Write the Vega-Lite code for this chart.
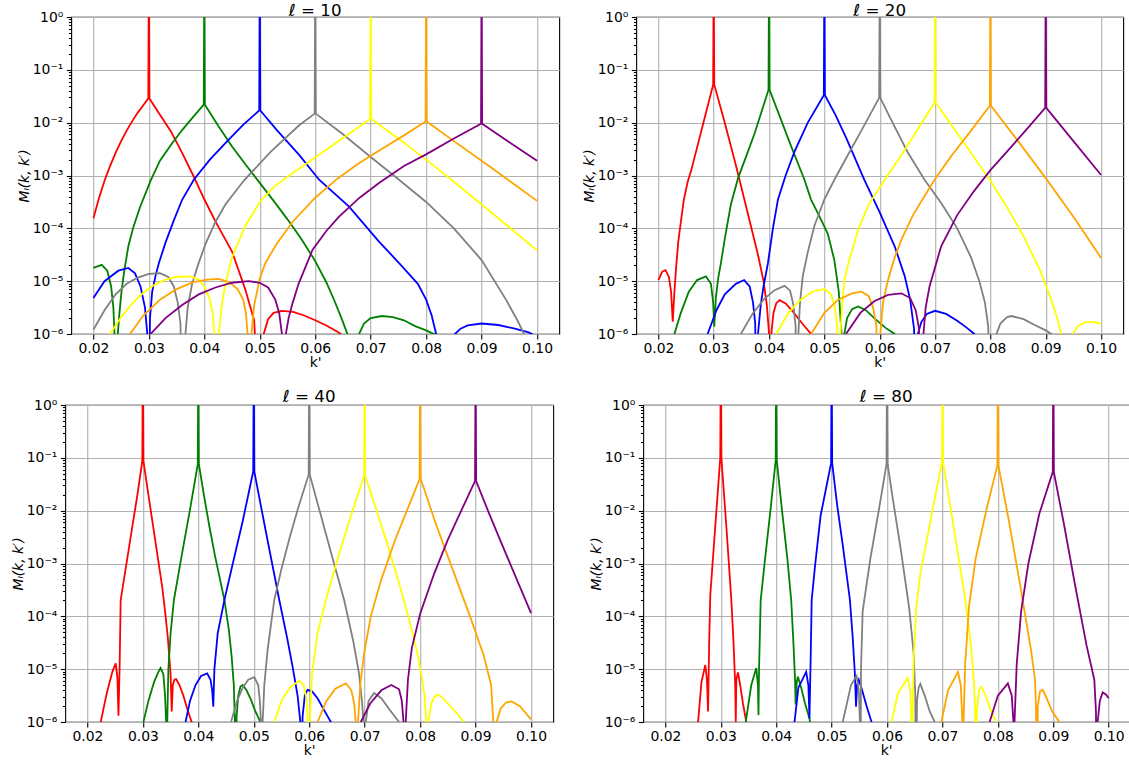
{
"$schema": "https://vega.github.io/schema/vega-lite/v6.json",
"padding": {"left": 10, "top": 2, "right": 0, "bottom": 0},
"background": "white",
"config": {
 "font": "DejaVu Sans",
 "view": {"stroke": "#000000", "strokeWidth": 1.1},
 "title": {"fontSize": 16.7, "fontWeight": "normal", "color": "#000000", "offset": -7.5, "baseline": "alphabetic"},
 "axis": {"labelFontSize": 13.9, "titleFontSize": 13.9, "titleFontWeight": "normal", "labelColor": "#000000", "titleColor": "#000000", "tickColor": "#000000", "tickWidth": 1.1, "tickSize": 4.9, "labelPadding": 3.5, "domain": false, "grid": true, "gridColor": "#b0b0b0", "gridWidth": 1.1, "labelFlush": false, "labelOverlap": false},
 "axisX": {"labelPadding": 3, "titlePadding": 0}
},
"datasets": {
"p10": [
{"s":"red","k":0.02,"m":1.55e-4},{"s":"red","k":0.021,"m":3.72e-4},{"s":"red","k":0.022,"m":7.94e-4},{"s":"red","k":0.023,"m":1.51e-3},{"s":"red","k":0.024,"m":2.69e-3},{"s":"red","k":0.025,"m":4.47e-3},{"s":"red","k":0.026,"m":7.08e-3},{"s":"red","k":0.027,"m":1.07e-2},{"s":"red","k":0.028,"m":1.55e-2},{"s":"red","k":0.029,"m":2.14e-2},{"s":"red","k":0.0299,"m":2.88e-2},{"s":"red","k":0.03,"m":10},{"s":"red","k":0.0301,"m":2.88e-2},{"s":"red","k":0.032,"m":1.41e-2},{"s":"red","k":0.034,"m":6.76e-3},{"s":"red","k":0.036,"m":2.69e-3},{"s":"red","k":0.038,"m":1.0e-3},{"s":"red","k":0.04,"m":3.55e-4},{"s":"red","k":0.042,"m":1.35e-4},{"s":"red","k":0.045,"m":3.63e-5},{"s":"red","k":0.0474,"m":6.92e-6},{"s":"red","k":0.049,"m":1.78e-6},{"s":"red","k":0.05,"m":1e-8},{"s":"red","k":0.0507,"m":1e-6},{"s":"red","k":0.0515,"m":1.91e-6},{"s":"red","k":0.0525,"m":2.51e-6},{"s":"red","k":0.054,"m":2.75e-6},{"s":"red","k":0.056,"m":2.63e-6},{"s":"red","k":0.058,"m":2.24e-6},{"s":"red","k":0.06,"m":1.82e-6},{"s":"red","k":0.062,"m":1.45e-6},{"s":"red","k":0.064,"m":1.1e-6},{"s":"red","k":0.066,"m":7.94e-7},
{"s":"green","k":0.02,"m":1.78e-5},{"s":"green","k":0.0215,"m":2.04e-5},{"s":"green","k":0.0225,"m":1.58e-5},{"s":"green","k":0.0232,"m":7.94e-6},{"s":"green","k":0.0236,"m":3.16e-6},{"s":"green","k":0.0238,"m":1e-6},{"s":"green","k":0.024,"m":1e-8},{"s":"green","k":0.0244,"m":1e-6},{"s":"green","k":0.0247,"m":2.51e-6},{"s":"green","k":0.0251,"m":6.92e-6},{"s":"green","k":0.0256,"m":1.66e-5},{"s":"green","k":0.0263,"m":4.57e-5},{"s":"green","k":0.0272,"m":1.05e-4},{"s":"green","k":0.0284,"m":2.51e-4},{"s":"green","k":0.0303,"m":7.94e-4},{"s":"green","k":0.032,"m":1.91e-3},{"s":"green","k":0.0342,"m":4.07e-3},{"s":"green","k":0.036,"m":7.24e-3},{"s":"green","k":0.038,"m":1.29e-2},{"s":"green","k":0.0399,"m":2.19e-2},{"s":"green","k":0.04,"m":10},{"s":"green","k":0.0401,"m":2.19e-2},{"s":"green","k":0.0425,"m":8.71e-3},{"s":"green","k":0.045,"m":3.55e-3},{"s":"green","k":0.0475,"m":1.58e-3},{"s":"green","k":0.05,"m":7.24e-4},{"s":"green","k":0.0525,"m":3.31e-4},{"s":"green","k":0.055,"m":1.48e-4},{"s":"green","k":0.0575,"m":6.31e-5},{"s":"green","k":0.06,"m":2.4e-5},{"s":"green","k":0.062,"m":9.55e-6},{"s":"green","k":0.0635,"m":4.17e-6},{"s":"green","k":0.0648,"m":1.91e-6},{"s":"green","k":0.0658,"m":1e-6},{"s":"green","k":0.0667,"m":1e-8},{"s":"green","k":0.0679,"m":1e-6},{"s":"green","k":0.0688,"m":1.58e-6},{"s":"green","k":0.07,"m":2e-6},{"s":"green","k":0.072,"m":2.19e-6},{"s":"green","k":0.074,"m":2.09e-6},{"s":"green","k":0.076,"m":1.82e-6},{"s":"green","k":0.078,"m":1.41e-6},{"s":"green","k":0.08,"m":1.17e-6},{"s":"green","k":0.0824,"m":8.91e-7},
{"s":"blue","k":0.02,"m":4.79e-6},{"s":"blue","k":0.022,"m":1e-5},{"s":"blue","k":0.0245,"m":1.58e-5},{"s":"blue","k":0.0263,"m":1.78e-5},{"s":"blue","k":0.0275,"m":1.41e-5},{"s":"blue","k":0.0285,"m":7.94e-6},{"s":"blue","k":0.0293,"m":3.16e-6},{"s":"blue","k":0.0298,"m":7.94e-7},{"s":"blue","k":0.03,"m":1e-8},{"s":"blue","k":0.0302,"m":2e-6},{"s":"blue","k":0.0306,"m":6.31e-6},{"s":"blue","k":0.0312,"m":1.26e-5},{"s":"blue","k":0.0318,"m":2.19e-5},{"s":"blue","k":0.033,"m":5.37e-5},{"s":"blue","k":0.0345,"m":1.41e-4},{"s":"blue","k":0.036,"m":3.47e-4},{"s":"blue","k":0.0381,"m":8.32e-4},{"s":"blue","k":0.041,"m":2e-3},{"s":"blue","k":0.0444,"m":4.79e-3},{"s":"blue","k":0.047,"m":9.12e-3},{"s":"blue","k":0.0499,"m":1.7e-2},{"s":"blue","k":0.05,"m":10},{"s":"blue","k":0.0501,"m":1.7e-2},{"s":"blue","k":0.053,"m":7.41e-3},{"s":"blue","k":0.0571,"m":2.45e-3},{"s":"blue","k":0.0607,"m":8.32e-4},{"s":"blue","k":0.0661,"m":2.57e-4},{"s":"blue","k":0.0715,"m":5.62e-5},{"s":"blue","k":0.0755,"m":2e-5},{"s":"blue","k":0.0785,"m":8.91e-6},{"s":"blue","k":0.08,"m":4.47e-6},{"s":"blue","k":0.081,"m":2.24e-6},{"s":"blue","k":0.0818,"m":1e-6},{"s":"blue","k":0.0835,"m":1e-8},{"s":"blue","k":0.0852,"m":1e-6},{"s":"blue","k":0.0862,"m":1.26e-6},{"s":"blue","k":0.0875,"m":1.45e-6},{"s":"blue","k":0.09,"m":1.58e-6},{"s":"blue","k":0.093,"m":1.48e-6},{"s":"blue","k":0.096,"m":1.26e-6},{"s":"blue","k":0.0985,"m":1.07e-6},{"s":"blue","k":0.1,"m":8.91e-7},
{"s":"gray","k":0.02,"m":1.2e-6},{"s":"gray","k":0.022,"m":2.82e-6},{"s":"gray","k":0.024,"m":5.62e-6},{"s":"gray","k":0.026,"m":8.91e-6},{"s":"gray","k":0.028,"m":1.17e-5},{"s":"gray","k":0.03,"m":1.38e-5},{"s":"gray","k":0.032,"m":1.41e-5},{"s":"gray","k":0.0335,"m":1.2e-5},{"s":"gray","k":0.0345,"m":7.94e-6},{"s":"gray","k":0.0352,"m":3.98e-6},{"s":"gray","k":0.0357,"m":1.58e-6},{"s":"gray","k":0.036,"m":1e-8},{"s":"gray","k":0.0366,"m":1e-6},{"s":"gray","k":0.037,"m":3.16e-6},{"s":"gray","k":0.0378,"m":8.91e-6},{"s":"gray","k":0.039,"m":2.24e-5},{"s":"gray","k":0.0402,"m":5.01e-5},{"s":"gray","k":0.042,"m":1.32e-4},{"s":"gray","k":0.0438,"m":2.82e-4},{"s":"gray","k":0.0471,"m":7.94e-4},{"s":"gray","k":0.052,"m":2.82e-3},{"s":"gray","k":0.0571,"m":8.91e-3},{"s":"gray","k":0.0599,"m":1.48e-2},{"s":"gray","k":0.06,"m":10},{"s":"gray","k":0.0601,"m":1.48e-2},{"s":"gray","k":0.065,"m":6.03e-3},{"s":"gray","k":0.07,"m":2.24e-3},{"s":"gray","k":0.075,"m":8.51e-4},{"s":"gray","k":0.08,"m":3.16e-4},{"s":"gray","k":0.085,"m":1e-4},{"s":"gray","k":0.09,"m":2.51e-5},{"s":"gray","k":0.0944,"m":4.47e-6},{"s":"gray","k":0.0965,"m":1.78e-6},{"s":"gray","k":0.0981,"m":7.94e-7},{"s":"gray","k":0.0988,"m":1e-8},
{"s":"yellow","k":0.023,"m":1e-6},{"s":"yellow","k":0.025,"m":2.09e-6},{"s":"yellow","k":0.027,"m":3.8e-6},{"s":"yellow","k":0.029,"m":6.03e-6},{"s":"yellow","k":0.031,"m":8.51e-6},{"s":"yellow","k":0.033,"m":1.07e-5},{"s":"yellow","k":0.035,"m":1.2e-5},{"s":"yellow","k":0.0375,"m":1.23e-5},{"s":"yellow","k":0.039,"m":1.07e-5},{"s":"yellow","k":0.04,"m":7.94e-6},{"s":"yellow","k":0.041,"m":4.47e-6},{"s":"yellow","k":0.0415,"m":2.51e-6},{"s":"yellow","k":0.0419,"m":7.94e-7},{"s":"yellow","k":0.0421,"m":1e-8},{"s":"yellow","k":0.0426,"m":1e-6},{"s":"yellow","k":0.0431,"m":3.16e-6},{"s":"yellow","k":0.0438,"m":8.91e-6},{"s":"yellow","k":0.045,"m":2.82e-5},{"s":"yellow","k":0.0474,"m":1.12e-4},{"s":"yellow","k":0.05,"m":3.16e-4},{"s":"yellow","k":0.0525,"m":6.03e-4},{"s":"yellow","k":0.0553,"m":1e-3},{"s":"yellow","k":0.06,"m":2.19e-3},{"s":"yellow","k":0.065,"m":5.13e-3},{"s":"yellow","k":0.0699,"m":1.17e-2},{"s":"yellow","k":0.07,"m":10},{"s":"yellow","k":0.0701,"m":1.17e-2},{"s":"yellow","k":0.075,"m":5.01e-3},{"s":"yellow","k":0.08,"m":2e-3},{"s":"yellow","k":0.085,"m":7.59e-4},{"s":"yellow","k":0.09,"m":2.82e-4},{"s":"yellow","k":0.095,"m":1.05e-4},{"s":"yellow","k":0.1,"m":3.8e-5},
{"s":"orange","k":0.0266,"m":1e-6},{"s":"orange","k":0.029,"m":2.24e-6},{"s":"orange","k":0.032,"m":4.47e-6},{"s":"orange","k":0.035,"m":7.08e-6},{"s":"orange","k":0.038,"m":9.55e-6},{"s":"orange","k":0.0405,"m":1.07e-5},{"s":"orange","k":0.0426,"m":1.1e-5},{"s":"orange","k":0.0445,"m":9.55e-6},{"s":"orange","k":0.046,"m":7.08e-6},{"s":"orange","k":0.047,"m":4.47e-6},{"s":"orange","k":0.0475,"m":2.51e-6},{"s":"orange","k":0.0478,"m":1e-6},{"s":"orange","k":0.048,"m":1e-8},{"s":"orange","k":0.0485,"m":1e-6},{"s":"orange","k":0.049,"m":3.55e-6},{"s":"orange","k":0.05,"m":1.12e-5},{"s":"orange","k":0.051,"m":2.19e-5},{"s":"orange","k":0.053,"m":5.01e-5},{"s":"orange","k":0.0559,"m":1.32e-4},{"s":"orange","k":0.06,"m":3.8e-4},{"s":"orange","k":0.064,"m":8.71e-4},{"s":"orange","k":0.068,"m":1.74e-3},{"s":"orange","k":0.072,"m":3.16e-3},{"s":"orange","k":0.076,"m":5.75e-3},{"s":"orange","k":0.0799,"m":1.05e-2},{"s":"orange","k":0.08,"m":10},{"s":"orange","k":0.0801,"m":1.05e-2},{"s":"orange","k":0.085,"m":4.47e-3},{"s":"orange","k":0.09,"m":1.91e-3},{"s":"orange","k":0.095,"m":7.94e-4},{"s":"orange","k":0.1,"m":3.31e-4},
{"s":"purple","k":0.0303,"m":1e-6},{"s":"purple","k":0.033,"m":2e-6},{"s":"purple","k":0.036,"m":3.55e-6},{"s":"purple","k":0.039,"m":5.62e-6},{"s":"purple","k":0.042,"m":7.59e-6},{"s":"purple","k":0.045,"m":9.33e-6},{"s":"purple","k":0.048,"m":1e-5},{"s":"purple","k":0.05,"m":9.33e-6},{"s":"purple","k":0.0515,"m":7.59e-6},{"s":"purple","k":0.0528,"m":4.47e-6},{"s":"purple","k":0.0535,"m":2.51e-6},{"s":"purple","k":0.054,"m":1e-6},{"s":"purple","k":0.0542,"m":1e-8},{"s":"purple","k":0.0547,"m":1e-6},{"s":"purple","k":0.0552,"m":2e-6},{"s":"purple","k":0.0559,"m":3.8e-6},{"s":"purple","k":0.057,"m":8.91e-6},{"s":"purple","k":0.0595,"m":3.89e-5},{"s":"purple","k":0.062,"m":8.91e-5},{"s":"purple","k":0.0643,"m":1.66e-4},{"s":"purple","k":0.068,"m":3.8e-4},{"s":"purple","k":0.0715,"m":7.24e-4},{"s":"purple","k":0.076,"m":1.51e-3},{"s":"purple","k":0.08,"m":2.51e-3},{"s":"purple","k":0.085,"m":5.01e-3},{"s":"purple","k":0.0899,"m":9.55e-3},{"s":"purple","k":0.09,"m":10},{"s":"purple","k":0.0901,"m":9.55e-3},{"s":"purple","k":0.095,"m":4.27e-3},{"s":"purple","k":0.1,"m":1.91e-3}
],
"p20": [
{"s":"red","k":0.02,"m":1.05e-5},{"s":"red","k":0.0207,"m":1.51e-5},{"s":"red","k":0.0213,"m":1.62e-5},{"s":"red","k":0.0219,"m":1.2e-5},{"s":"red","k":0.0223,"m":6.31e-6},{"s":"red","k":0.0226,"m":1.7e-6},{"s":"red","k":0.0229,"m":6.31e-6},{"s":"red","k":0.0232,"m":1.78e-5},{"s":"red","k":0.0236,"m":5.62e-5},{"s":"red","k":0.0241,"m":1.41e-4},{"s":"red","k":0.0246,"m":3.47e-4},{"s":"red","k":0.0253,"m":7.59e-4},{"s":"red","k":0.026,"m":1.32e-3},{"s":"red","k":0.028,"m":8.71e-3},{"s":"red","k":0.0299,"m":5.25e-2},{"s":"red","k":0.03,"m":10},{"s":"red","k":0.0301,"m":5.25e-2},{"s":"red","k":0.032,"m":1e-2},{"s":"red","k":0.034,"m":1.58e-3},{"s":"red","k":0.036,"m":2.24e-4},{"s":"red","k":0.038,"m":3.16e-5},{"s":"red","k":0.039,"m":1e-5},{"s":"red","k":0.0396,"m":3.55e-6},{"s":"red","k":0.04,"m":1e-6},{"s":"red","k":0.0402,"m":1e-8},{"s":"red","k":0.0404,"m":1e-6},{"s":"red","k":0.0408,"m":2.51e-6},{"s":"red","k":0.0413,"m":3.8e-6},{"s":"red","k":0.0419,"m":4.37e-6},{"s":"red","k":0.043,"m":3.8e-6},{"s":"red","k":0.0445,"m":2.51e-6},{"s":"red","k":0.046,"m":1.58e-6},{"s":"red","k":0.0476,"m":1e-6},{"s":"red","k":0.049,"m":5.01e-7},
{"s":"green","k":0.0229,"m":1e-6},{"s":"green","k":0.024,"m":2.4e-6},{"s":"green","k":0.0255,"m":6.31e-6},{"s":"green","k":0.027,"m":1.05e-5},{"s":"green","k":0.0286,"m":1.23e-5},{"s":"green","k":0.0295,"m":8.91e-6},{"s":"green","k":0.0299,"m":3.98e-6},{"s":"green","k":0.0301,"m":1.38e-6},{"s":"green","k":0.0304,"m":5.01e-6},{"s":"green","k":0.0308,"m":1.12e-5},{"s":"green","k":0.0313,"m":2.19e-5},{"s":"green","k":0.032,"m":6.31e-5},{"s":"green","k":0.0331,"m":2.82e-4},{"s":"green","k":0.0344,"m":8.91e-4},{"s":"green","k":0.036,"m":2.51e-3},{"s":"green","k":0.0374,"m":6.31e-3},{"s":"green","k":0.0399,"m":4.17e-2},{"s":"green","k":0.04,"m":10},{"s":"green","k":0.0401,"m":4.17e-2},{"s":"green","k":0.042,"m":1.26e-2},{"s":"green","k":0.044,"m":3.55e-3},{"s":"green","k":0.0464,"m":8.32e-4},{"s":"green","k":0.0476,"m":3.47e-4},{"s":"green","k":0.049,"m":1.78e-4},{"s":"green","k":0.0506,"m":7.94e-5},{"s":"green","k":0.0518,"m":2.51e-5},{"s":"green","k":0.0526,"m":6.31e-6},{"s":"green","k":0.0531,"m":1e-6},{"s":"green","k":0.0533,"m":1e-8},{"s":"green","k":0.0536,"m":1e-6},{"s":"green","k":0.0541,"m":2e-6},{"s":"green","k":0.055,"m":2.95e-6},{"s":"green","k":0.0561,"m":3.31e-6},{"s":"green","k":0.0575,"m":2.82e-6},{"s":"green","k":0.059,"m":2e-6},{"s":"green","k":0.061,"m":1.32e-6},{"s":"green","k":0.0627,"m":1e-6},{"s":"green","k":0.064,"m":6.31e-7},
{"s":"blue","k":0.0289,"m":1e-6},{"s":"blue","k":0.0305,"m":2.82e-6},{"s":"blue","k":0.032,"m":5.62e-6},{"s":"blue","k":0.034,"m":8.91e-6},{"s":"blue","k":0.0355,"m":1.05e-5},{"s":"blue","k":0.0365,"m":7.94e-6},{"s":"blue","k":0.0371,"m":3.98e-6},{"s":"blue","k":0.0375,"m":1.58e-6},{"s":"blue","k":0.0377,"m":1e-8},{"s":"blue","k":0.038,"m":1e-6},{"s":"blue","k":0.0385,"m":3.55e-6},{"s":"blue","k":0.039,"m":7.94e-6},{"s":"blue","k":0.0398,"m":2.19e-5},{"s":"blue","k":0.0407,"m":1e-4},{"s":"blue","k":0.0416,"m":3.47e-4},{"s":"blue","k":0.043,"m":1e-3},{"s":"blue","k":0.0446,"m":2.82e-3},{"s":"blue","k":0.047,"m":1e-2},{"s":"blue","k":0.0499,"m":3.31e-2},{"s":"blue","k":0.05,"m":10},{"s":"blue","k":0.0501,"m":3.31e-2},{"s":"blue","k":0.052,"m":1.41e-2},{"s":"blue","k":0.054,"m":5.01e-3},{"s":"blue","k":0.0572,"m":8.32e-4},{"s":"blue","k":0.06,"m":2e-4},{"s":"blue","k":0.0627,"m":4.57e-5},{"s":"blue","k":0.0645,"m":1.26e-5},{"s":"blue","k":0.0655,"m":4.47e-6},{"s":"blue","k":0.0662,"m":1.26e-6},{"s":"blue","k":0.0666,"m":1e-8},{"s":"blue","k":0.0669,"m":1e-6},{"s":"blue","k":0.0675,"m":1.66e-6},{"s":"blue","k":0.0685,"m":2.4e-6},{"s":"blue","k":0.07,"m":2.75e-6},{"s":"blue","k":0.072,"m":2.4e-6},{"s":"blue","k":0.074,"m":1.78e-6},{"s":"blue","k":0.0757,"m":1.32e-6},{"s":"blue","k":0.0771,"m":1e-6},{"s":"blue","k":0.079,"m":5.62e-7},
{"s":"gray","k":0.0349,"m":1e-6},{"s":"gray","k":0.037,"m":2.4e-6},{"s":"gray","k":0.039,"m":4.47e-6},{"s":"gray","k":0.041,"m":6.76e-6},{"s":"gray","k":0.0428,"m":8.13e-6},{"s":"gray","k":0.0438,"m":6.61e-6},{"s":"gray","k":0.0444,"m":3.55e-6},{"s":"gray","k":0.0448,"m":1.41e-6},{"s":"gray","k":0.045,"m":1e-8},{"s":"gray","k":0.0453,"m":1e-6},{"s":"gray","k":0.0456,"m":3.98e-6},{"s":"gray","k":0.0461,"m":1.26e-5},{"s":"gray","k":0.047,"m":3.55e-5},{"s":"gray","k":0.0482,"m":1.12e-4},{"s":"gray","k":0.05,"m":3.55e-4},{"s":"gray","k":0.0518,"m":8.32e-4},{"s":"gray","k":0.054,"m":2.19e-3},{"s":"gray","k":0.057,"m":8.13e-3},{"s":"gray","k":0.0599,"m":2.95e-2},{"s":"gray","k":0.06,"m":10},{"s":"gray","k":0.0601,"m":2.95e-2},{"s":"gray","k":0.062,"m":1.17e-2},{"s":"gray","k":0.065,"m":2.82e-3},{"s":"gray","k":0.0681,"m":8.32e-4},{"s":"gray","k":0.0711,"m":3.02e-4},{"s":"gray","k":0.074,"m":1e-4},{"s":"gray","k":0.0765,"m":2.82e-5},{"s":"gray","k":0.078,"m":1e-5},{"s":"gray","k":0.079,"m":3.98e-6},{"s":"gray","k":0.0796,"m":1.41e-6},{"s":"gray","k":0.0801,"m":1e-8},{"s":"gray","k":0.0811,"m":1e-6},{"s":"gray","k":0.0818,"m":1.58e-6},{"s":"gray","k":0.083,"m":2.09e-6},{"s":"gray","k":0.0838,"m":2.19e-6},{"s":"gray","k":0.086,"m":1.91e-6},{"s":"gray","k":0.088,"m":1.48e-6},{"s":"gray","k":0.09,"m":1.17e-6},{"s":"gray","k":0.091,"m":1e-6},{"s":"gray","k":0.0925,"m":7.08e-7},
{"s":"yellow","k":0.0413,"m":1e-6},{"s":"yellow","k":0.0435,"m":2.51e-6},{"s":"yellow","k":0.0455,"m":4.27e-6},{"s":"yellow","k":0.0478,"m":6.31e-6},{"s":"yellow","k":0.05,"m":7.08e-6},{"s":"yellow","k":0.0512,"m":5.62e-6},{"s":"yellow","k":0.0519,"m":3.16e-6},{"s":"yellow","k":0.0523,"m":1.41e-6},{"s":"yellow","k":0.0525,"m":1e-8},{"s":"yellow","k":0.0529,"m":1e-6},{"s":"yellow","k":0.0532,"m":3.55e-6},{"s":"yellow","k":0.0536,"m":1.05e-5},{"s":"yellow","k":0.0545,"m":2.51e-5},{"s":"yellow","k":0.0561,"m":9.33e-5},{"s":"yellow","k":0.058,"m":2.82e-4},{"s":"yellow","k":0.0609,"m":8.32e-4},{"s":"yellow","k":0.064,"m":2.51e-3},{"s":"yellow","k":0.067,"m":7.94e-3},{"s":"yellow","k":0.0699,"m":2.4e-2},{"s":"yellow","k":0.07,"m":10},{"s":"yellow","k":0.0701,"m":2.4e-2},{"s":"yellow","k":0.073,"m":8.91e-3},{"s":"yellow","k":0.076,"m":3.16e-3},{"s":"yellow","k":0.08,"m":7.94e-4},{"s":"yellow","k":0.083,"m":2.51e-4},{"s":"yellow","k":0.086,"m":7.08e-5},{"s":"yellow","k":0.089,"m":1.58e-5},{"s":"yellow","k":0.091,"m":4.47e-6},{"s":"yellow","k":0.0922,"m":1.78e-6},{"s":"yellow","k":0.0928,"m":1e-6},{"s":"yellow","k":0.0938,"m":1e-8},{"s":"yellow","k":0.0949,"m":1e-6},{"s":"yellow","k":0.0958,"m":1.41e-6},{"s":"yellow","k":0.097,"m":1.66e-6},{"s":"yellow","k":0.098,"m":1.7e-6},{"s":"yellow","k":0.099,"m":1.66e-6},{"s":"yellow","k":0.1,"m":1.55e-6},
{"s":"orange","k":0.0476,"m":1e-6},{"s":"orange","k":0.05,"m":2.51e-6},{"s":"orange","k":0.0525,"m":4.47e-6},{"s":"orange","k":0.055,"m":5.89e-6},{"s":"orange","k":0.0567,"m":6.31e-6},{"s":"orange","k":0.058,"m":5.25e-6},{"s":"orange","k":0.0588,"m":3.16e-6},{"s":"orange","k":0.0594,"m":1.41e-6},{"s":"orange","k":0.0597,"m":1e-8},{"s":"orange","k":0.0601,"m":1e-6},{"s":"orange","k":0.0606,"m":3.98e-6},{"s":"orange","k":0.0615,"m":1.05e-5},{"s":"orange","k":0.0627,"m":2.82e-5},{"s":"orange","k":0.0639,"m":6.03e-5},{"s":"orange","k":0.066,"m":1.78e-4},{"s":"orange","k":0.0699,"m":8.32e-4},{"s":"orange","k":0.073,"m":2.4e-3},{"s":"orange","k":0.0765,"m":7.08e-3},{"s":"orange","k":0.0799,"m":2.09e-2},{"s":"orange","k":0.08,"m":10},{"s":"orange","k":0.0801,"m":2.09e-2},{"s":"orange","k":0.085,"m":4.47e-3},{"s":"orange","k":0.09,"m":8.91e-4},{"s":"orange","k":0.095,"m":1.66e-4},{"s":"orange","k":0.1,"m":2.75e-5},
{"s":"purple","k":0.0539,"m":1e-6},{"s":"purple","k":0.0565,"m":2.51e-6},{"s":"purple","k":0.059,"m":4.17e-6},{"s":"purple","k":0.0615,"m":5.5e-6},{"s":"purple","k":0.0639,"m":5.89e-6},{"s":"purple","k":0.0655,"m":4.79e-6},{"s":"purple","k":0.0665,"m":2.82e-6},{"s":"purple","k":0.0671,"m":1.26e-6},{"s":"purple","k":0.0674,"m":1e-8},{"s":"purple","k":0.0679,"m":1e-6},{"s":"purple","k":0.0683,"m":3.16e-6},{"s":"purple","k":0.069,"m":7.94e-6},{"s":"purple","k":0.0711,"m":4.57e-5},{"s":"purple","k":0.074,"m":1.78e-4},{"s":"purple","k":0.077,"m":5.01e-4},{"s":"purple","k":0.08,"m":1.26e-3},{"s":"purple","k":0.083,"m":2.82e-3},{"s":"purple","k":0.0865,"m":7.41e-3},{"s":"purple","k":0.0899,"m":1.91e-2},{"s":"purple","k":0.09,"m":10},{"s":"purple","k":0.0901,"m":1.91e-2},{"s":"purple","k":0.095,"m":4.47e-3},{"s":"purple","k":0.1,"m":1.02e-3}
],
"p40": [
{"s":"red","k":0.0222,"m":5.01e-7},{"s":"red","k":0.0224,"m":1e-6},{"s":"red","k":0.0235,"m":3.55e-6},{"s":"red","k":0.0245,"m":8.91e-6},{"s":"red","k":0.0251,"m":1.29e-5},{"s":"red","k":0.0254,"m":7.08e-6},{"s":"red","k":0.0256,"m":1.32e-6},{"s":"red","k":0.0258,"m":1e-5},{"s":"red","k":0.026,"m":2.04e-4},{"s":"red","k":0.027,"m":9.33e-4},{"s":"red","k":0.028,"m":4.27e-3},{"s":"red","k":0.029,"m":1.95e-2},{"s":"red","k":0.0299,"m":8.71e-2},{"s":"red","k":0.03,"m":10},{"s":"red","k":0.0301,"m":8.71e-2},{"s":"red","k":0.031,"m":2e-2},{"s":"red","k":0.032,"m":3.98e-3},{"s":"red","k":0.033,"m":7.94e-4},{"s":"red","k":0.0335,"m":3.55e-4},{"s":"red","k":0.034,"m":1.26e-4},{"s":"red","k":0.0345,"m":3.98e-5},{"s":"red","k":0.035,"m":7.94e-6},{"s":"red","k":0.0352,"m":1.58e-6},{"s":"red","k":0.0354,"m":5.01e-6},{"s":"red","k":0.0357,"m":6.31e-6},{"s":"red","k":0.036,"m":6.46e-6},{"s":"red","k":0.0366,"m":5.01e-6},{"s":"red","k":0.0373,"m":3.16e-6},{"s":"red","k":0.038,"m":1.78e-6},{"s":"red","k":0.0388,"m":1e-6},{"s":"red","k":0.0395,"m":5.01e-7},
{"s":"green","k":0.0301,"m":1e-6},{"s":"green","k":0.031,"m":2.51e-6},{"s":"green","k":0.032,"m":5.62e-6},{"s":"green","k":0.0328,"m":8.91e-6},{"s":"green","k":0.0332,"m":1.05e-5},{"s":"green","k":0.0337,"m":7.94e-6},{"s":"green","k":0.034,"m":3.16e-6},{"s":"green","k":0.0342,"m":1e-6},{"s":"green","k":0.0343,"m":1e-8},{"s":"green","k":0.0344,"m":1e-6},{"s":"green","k":0.0346,"m":1e-5},{"s":"green","k":0.035,"m":4.79e-5},{"s":"green","k":0.0356,"m":2.04e-4},{"s":"green","k":0.037,"m":1.41e-3},{"s":"green","k":0.0385,"m":1.05e-2},{"s":"green","k":0.0399,"m":7.59e-2},{"s":"green","k":0.04,"m":10},{"s":"green","k":0.0401,"m":7.59e-2},{"s":"green","k":0.041,"m":2e-2},{"s":"green","k":0.042,"m":5.01e-3},{"s":"green","k":0.043,"m":1.41e-3},{"s":"green","k":0.0447,"m":2.04e-4},{"s":"green","k":0.0455,"m":5.62e-5},{"s":"green","k":0.046,"m":1.78e-5},{"s":"green","k":0.0464,"m":5.01e-6},{"s":"green","k":0.0466,"m":1e-6},{"s":"green","k":0.0467,"m":1e-8},{"s":"green","k":0.0469,"m":1.26e-6},{"s":"green","k":0.0472,"m":3.16e-6},{"s":"green","k":0.0476,"m":4.68e-6},{"s":"green","k":0.048,"m":5.01e-6},{"s":"green","k":0.0487,"m":3.98e-6},{"s":"green","k":0.0495,"m":2.63e-6},{"s":"green","k":0.0503,"m":1.58e-6},{"s":"green","k":0.0512,"m":1e-6},{"s":"green","k":0.052,"m":5.01e-7},
{"s":"blue","k":0.0377,"m":1e-6},{"s":"blue","k":0.0385,"m":2.51e-6},{"s":"blue","k":0.0395,"m":5.01e-6},{"s":"blue","k":0.0405,"m":7.41e-6},{"s":"blue","k":0.0416,"m":8.32e-6},{"s":"blue","k":0.0422,"m":6.31e-6},{"s":"blue","k":0.0425,"m":3.98e-6},{"s":"blue","k":0.0427,"m":1.95e-6},{"s":"blue","k":0.0429,"m":1e-5},{"s":"blue","k":0.0435,"m":4.79e-5},{"s":"blue","k":0.0447,"m":2.04e-4},{"s":"blue","k":0.046,"m":7.94e-4},{"s":"blue","k":0.048,"m":6.31e-3},{"s":"blue","k":0.0499,"m":5.5e-2},{"s":"blue","k":0.05,"m":10},{"s":"blue","k":0.0501,"m":5.5e-2},{"s":"blue","k":0.052,"m":5.01e-3},{"s":"blue","k":0.0546,"m":2.04e-4},{"s":"blue","k":0.056,"m":3.98e-5},{"s":"blue","k":0.057,"m":1.12e-5},{"s":"blue","k":0.0579,"m":3.16e-6},{"s":"blue","k":0.0584,"m":1e-6},{"s":"blue","k":0.0586,"m":1e-8},{"s":"blue","k":0.0588,"m":1.26e-6},{"s":"blue","k":0.0592,"m":3.16e-6},{"s":"blue","k":0.0597,"m":4.07e-6},{"s":"blue","k":0.0605,"m":3.8e-6},{"s":"blue","k":0.0615,"m":2.82e-6},{"s":"blue","k":0.0627,"m":1.66e-6},{"s":"blue","k":0.0639,"m":1e-6},{"s":"blue","k":0.065,"m":5.01e-7},
{"s":"gray","k":0.0459,"m":1e-6},{"s":"gray","k":0.047,"m":2.51e-6},{"s":"gray","k":0.048,"m":4.47e-6},{"s":"gray","k":0.049,"m":6.31e-6},{"s":"gray","k":0.0501,"m":7.08e-6},{"s":"gray","k":0.0508,"m":5.01e-6},{"s":"gray","k":0.0511,"m":2.51e-6},{"s":"gray","k":0.0513,"m":1e-6},{"s":"gray","k":0.0514,"m":1e-8},{"s":"gray","k":0.0516,"m":1e-6},{"s":"gray","k":0.0519,"m":5.01e-6},{"s":"gray","k":0.0525,"m":2.34e-5},{"s":"gray","k":0.0537,"m":2.04e-4},{"s":"gray","k":0.055,"m":7.94e-4},{"s":"gray","k":0.0565,"m":3.16e-3},{"s":"gray","k":0.058,"m":1.12e-2},{"s":"gray","k":0.0599,"m":4.79e-2},{"s":"gray","k":0.06,"m":10},{"s":"gray","k":0.0601,"m":4.79e-2},{"s":"gray","k":0.062,"m":8.91e-3},{"s":"gray","k":0.064,"m":1.51e-3},{"s":"gray","k":0.0663,"m":2.04e-4},{"s":"gray","k":0.068,"m":3.16e-5},{"s":"gray","k":0.069,"m":7.94e-6},{"s":"gray","k":0.0695,"m":2.51e-6},{"s":"gray","k":0.0698,"m":1e-6},{"s":"gray","k":0.07,"m":1e-8},{"s":"gray","k":0.0702,"m":1e-6},{"s":"gray","k":0.0707,"m":2.51e-6},{"s":"gray","k":0.0717,"m":3.55e-6},{"s":"gray","k":0.073,"m":2.82e-6},{"s":"gray","k":0.0745,"m":1.7e-6},{"s":"gray","k":0.0762,"m":1e-6},{"s":"gray","k":0.077,"m":6.31e-7},
{"s":"yellow","k":0.0537,"m":1e-6},{"s":"yellow","k":0.055,"m":2.51e-6},{"s":"yellow","k":0.0565,"m":4.47e-6},{"s":"yellow","k":0.0582,"m":6.03e-6},{"s":"yellow","k":0.059,"m":5.01e-6},{"s":"yellow","k":0.0595,"m":2.82e-6},{"s":"yellow","k":0.0597,"m":1.26e-6},{"s":"yellow","k":0.0598,"m":1e-8},{"s":"yellow","k":0.0601,"m":1e-6},{"s":"yellow","k":0.0605,"m":7.94e-6},{"s":"yellow","k":0.0615,"m":4.79e-5},{"s":"yellow","k":0.063,"m":2.04e-4},{"s":"yellow","k":0.065,"m":1.12e-3},{"s":"yellow","k":0.0675,"m":7.94e-3},{"s":"yellow","k":0.0699,"m":4.57e-2},{"s":"yellow","k":0.07,"m":10},{"s":"yellow","k":0.0701,"m":4.57e-2},{"s":"yellow","k":0.072,"m":1.12e-2},{"s":"yellow","k":0.074,"m":2.51e-3},{"s":"yellow","k":0.076,"m":5.01e-4},{"s":"yellow","k":0.078,"m":8.91e-5},{"s":"yellow","k":0.0795,"m":2e-5},{"s":"yellow","k":0.0803,"m":7.08e-6},{"s":"yellow","k":0.0808,"m":3.16e-6},{"s":"yellow","k":0.0811,"m":1e-6},{"s":"yellow","k":0.0813,"m":1e-8},{"s":"yellow","k":0.0815,"m":1e-6},{"s":"yellow","k":0.082,"m":2.24e-6},{"s":"yellow","k":0.0826,"m":3.02e-6},{"s":"yellow","k":0.0832,"m":3.31e-6},{"s":"yellow","k":0.0838,"m":3.02e-6},{"s":"yellow","k":0.085,"m":2.24e-6},{"s":"yellow","k":0.0865,"m":1.51e-6},{"s":"yellow","k":0.0883,"m":8.91e-7},
{"s":"orange","k":0.0615,"m":1e-6},{"s":"orange","k":0.063,"m":2.4e-6},{"s":"orange","k":0.0647,"m":4.27e-6},{"s":"orange","k":0.0666,"m":5.37e-6},{"s":"orange","k":0.0676,"m":3.98e-6},{"s":"orange","k":0.0681,"m":2.24e-6},{"s":"orange","k":0.0684,"m":1e-6},{"s":"orange","k":0.0685,"m":1e-8},{"s":"orange","k":0.0688,"m":1e-6},{"s":"orange","k":0.0692,"m":5.01e-6},{"s":"orange","k":0.0699,"m":2e-5},{"s":"orange","k":0.0711,"m":1e-4},{"s":"orange","k":0.073,"m":5.01e-4},{"s":"orange","k":0.0755,"m":2.82e-3},{"s":"orange","k":0.078,"m":1.26e-2},{"s":"orange","k":0.0799,"m":3.98e-2},{"s":"orange","k":0.08,"m":10},{"s":"orange","k":0.0801,"m":3.98e-2},{"s":"orange","k":0.083,"m":5.01e-3},{"s":"orange","k":0.086,"m":7.08e-4},{"s":"orange","k":0.089,"m":1e-4},{"s":"orange","k":0.0915,"m":1.78e-5},{"s":"orange","k":0.0928,"m":5.01e-6},{"s":"orange","k":0.0932,"m":1e-6},{"s":"orange","k":0.0934,"m":1e-8},{"s":"orange","k":0.0938,"m":1e-6},{"s":"orange","k":0.0945,"m":1.78e-6},{"s":"orange","k":0.0955,"m":2.34e-6},{"s":"orange","k":0.0965,"m":2.45e-6},{"s":"orange","k":0.098,"m":2e-6},{"s":"orange","k":0.1,"m":1.12e-6},
{"s":"purple","k":0.0693,"m":1e-6},{"s":"purple","k":0.071,"m":2.24e-6},{"s":"purple","k":0.073,"m":3.98e-6},{"s":"purple","k":0.0748,"m":5.01e-6},{"s":"purple","k":0.0762,"m":4.17e-6},{"s":"purple","k":0.0767,"m":2.51e-6},{"s":"purple","k":0.077,"m":1e-6},{"s":"purple","k":0.0771,"m":1e-8},{"s":"purple","k":0.0774,"m":1e-6},{"s":"purple","k":0.0778,"m":6.31e-6},{"s":"purple","k":0.0785,"m":2.51e-5},{"s":"purple","k":0.08,"m":1.12e-4},{"s":"purple","k":0.0825,"m":6.31e-4},{"s":"purple","k":0.085,"m":2.82e-3},{"s":"purple","k":0.0875,"m":1.05e-2},{"s":"purple","k":0.0899,"m":3.63e-2},{"s":"purple","k":0.09,"m":10},{"s":"purple","k":0.0901,"m":3.63e-2},{"s":"purple","k":0.0925,"m":8.51e-3},{"s":"purple","k":0.095,"m":2e-3},{"s":"purple","k":0.0975,"m":4.79e-4},{"s":"purple","k":0.1,"m":1.15e-4}
],
"p80": [
{"s":"red","k":0.0256,"m":6.31e-7},{"s":"red","k":0.0259,"m":1e-6},{"s":"red","k":0.0265,"m":5.62e-6},{"s":"red","k":0.0272,"m":1.2e-5},{"s":"red","k":0.0275,"m":6.31e-6},{"s":"red","k":0.0277,"m":1.58e-6},{"s":"red","k":0.0279,"m":3.16e-5},{"s":"red","k":0.0281,"m":2.51e-4},{"s":"red","k":0.029,"m":5.01e-3},{"s":"red","k":0.0299,"m":0.1},{"s":"red","k":0.03,"m":10},{"s":"red","k":0.0301,"m":0.1},{"s":"red","k":0.031,"m":5.01e-3},{"s":"red","k":0.0319,"m":2.04e-4},{"s":"red","k":0.0323,"m":3.16e-5},{"s":"red","k":0.0326,"m":5.01e-6},{"s":"red","k":0.0327,"m":1e-6},{"s":"red","k":0.0328,"m":6.31e-6},{"s":"red","k":0.0331,"m":8.71e-6},{"s":"red","k":0.0335,"m":5.01e-6},{"s":"red","k":0.034,"m":2.24e-6},{"s":"red","k":0.0346,"m":1e-6},{"s":"red","k":0.035,"m":5.01e-7},
{"s":"green","k":0.0345,"m":1e-6},{"s":"green","k":0.0355,"m":5.01e-6},{"s":"green","k":0.0364,"m":1.05e-5},{"s":"green","k":0.0367,"m":5.01e-6},{"s":"green","k":0.0368,"m":1.35e-6},{"s":"green","k":0.0369,"m":1e-5},{"s":"green","k":0.0372,"m":2.04e-4},{"s":"green","k":0.038,"m":1.26e-3},{"s":"green","k":0.039,"m":1.12e-2},{"s":"green","k":0.0399,"m":8.91e-2},{"s":"green","k":0.04,"m":10},{"s":"green","k":0.0401,"m":8.91e-2},{"s":"green","k":0.041,"m":1.12e-2},{"s":"green","k":0.042,"m":1.26e-3},{"s":"green","k":0.0427,"m":2.04e-4},{"s":"green","k":0.0431,"m":3.16e-5},{"s":"green","k":0.0434,"m":6.31e-6},{"s":"green","k":0.0435,"m":2.14e-6},{"s":"green","k":0.0437,"m":5.62e-6},{"s":"green","k":0.0439,"m":7.24e-6},{"s":"green","k":0.0445,"m":4.47e-6},{"s":"green","k":0.0452,"m":2.24e-6},{"s":"green","k":0.046,"m":1.17e-6},{"s":"green","k":0.0465,"m":5.01e-7},
{"s":"blue","k":0.0433,"m":1e-6},{"s":"blue","k":0.044,"m":4.47e-6},{"s":"blue","k":0.0454,"m":8.91e-6},{"s":"blue","k":0.0458,"m":5.01e-6},{"s":"blue","k":0.046,"m":1.17e-6},{"s":"blue","k":0.04625,"m":2.51e-5},{"s":"blue","k":0.0464,"m":2.04e-4},{"s":"blue","k":0.047,"m":8.91e-4},{"s":"blue","k":0.048,"m":7.94e-3},{"s":"blue","k":0.0499,"m":7.94e-2},{"s":"blue","k":0.05,"m":10},{"s":"blue","k":0.0501,"m":7.94e-2},{"s":"blue","k":0.051,"m":1.26e-2},{"s":"blue","k":0.052,"m":2.24e-3},{"s":"blue","k":0.0533,"m":2.04e-4},{"s":"blue","k":0.0538,"m":3.98e-5},{"s":"blue","k":0.0542,"m":7.94e-6},{"s":"blue","k":0.0544,"m":1.95e-6},{"s":"blue","k":0.0546,"m":5.01e-6},{"s":"blue","k":0.0549,"m":6.31e-6},{"s":"blue","k":0.0555,"m":3.98e-6},{"s":"blue","k":0.0563,"m":2e-6},{"s":"blue","k":0.0572,"m":1e-6},{"s":"blue","k":0.058,"m":5.01e-7},
{"s":"gray","k":0.052,"m":1e-6},{"s":"gray","k":0.0535,"m":5.01e-6},{"s":"gray","k":0.0545,"m":7.41e-6},{"s":"gray","k":0.0549,"m":3.98e-6},{"s":"gray","k":0.0551,"m":1e-6},{"s":"gray","k":0.0552,"m":1e-8},{"s":"gray","k":0.0553,"m":1e-5},{"s":"gray","k":0.0556,"m":1.26e-4},{"s":"gray","k":0.057,"m":1.26e-3},{"s":"gray","k":0.0585,"m":1e-2},{"s":"gray","k":0.0599,"m":7.59e-2},{"s":"gray","k":0.06,"m":10},{"s":"gray","k":0.0601,"m":7.59e-2},{"s":"gray","k":0.061,"m":1.78e-2},{"s":"gray","k":0.0625,"m":1.78e-3},{"s":"gray","k":0.064,"m":1.41e-4},{"s":"gray","k":0.0648,"m":2e-5},{"s":"gray","k":0.0651,"m":3.16e-6},{"s":"gray","k":0.0652,"m":1e-8},{"s":"gray","k":0.0654,"m":2.51e-6},{"s":"gray","k":0.0657,"m":4.47e-6},{"s":"gray","k":0.066,"m":5.25e-6},{"s":"gray","k":0.0668,"m":3.16e-6},{"s":"gray","k":0.0677,"m":1.58e-6},{"s":"gray","k":0.0686,"m":1e-6},{"s":"gray","k":0.069,"m":6.31e-7},
{"s":"yellow","k":0.0608,"m":1e-6},{"s":"yellow","k":0.062,"m":3.55e-6},{"s":"yellow","k":0.0637,"m":6.76e-6},{"s":"yellow","k":0.0642,"m":3.98e-6},{"s":"yellow","k":0.0644,"m":1e-6},{"s":"yellow","k":0.0645,"m":1e-8},{"s":"yellow","k":0.0646,"m":1e-6},{"s":"yellow","k":0.0648,"m":1.58e-5},{"s":"yellow","k":0.0653,"m":1.58e-4},{"s":"yellow","k":0.066,"m":6.31e-4},{"s":"yellow","k":0.068,"m":7.94e-3},{"s":"yellow","k":0.0699,"m":8.32e-2},{"s":"yellow","k":0.07,"m":10},{"s":"yellow","k":0.0701,"m":8.32e-2},{"s":"yellow","k":0.072,"m":5.01e-3},{"s":"yellow","k":0.074,"m":2.51e-4},{"s":"yellow","k":0.0752,"m":2.51e-5},{"s":"yellow","k":0.0757,"m":5.01e-6},{"s":"yellow","k":0.0759,"m":1.58e-6},{"s":"yellow","k":0.076,"m":1e-8},{"s":"yellow","k":0.0762,"m":1.58e-6},{"s":"yellow","k":0.0766,"m":3.98e-6},{"s":"yellow","k":0.077,"m":4.68e-6},{"s":"yellow","k":0.0778,"m":3.16e-6},{"s":"yellow","k":0.0788,"m":1.58e-6},{"s":"yellow","k":0.0797,"m":1e-6},{"s":"yellow","k":0.08,"m":6.31e-7},
{"s":"orange","k":0.0698,"m":1e-6},{"s":"orange","k":0.071,"m":3.98e-6},{"s":"orange","k":0.0728,"m":8.91e-6},{"s":"orange","k":0.0733,"m":5.01e-6},{"s":"orange","k":0.0736,"m":1e-6},{"s":"orange","k":0.0737,"m":1e-8},{"s":"orange","k":0.0738,"m":1e-6},{"s":"orange","k":0.0741,"m":1.26e-5},{"s":"orange","k":0.0748,"m":1.58e-4},{"s":"orange","k":0.076,"m":1.26e-3},{"s":"orange","k":0.078,"m":1.12e-2},{"s":"orange","k":0.0799,"m":7.08e-2},{"s":"orange","k":0.08,"m":10},{"s":"orange","k":0.0801,"m":7.08e-2},{"s":"orange","k":0.082,"m":6.31e-3},{"s":"orange","k":0.084,"m":3.98e-4},{"s":"orange","k":0.086,"m":2.24e-5},{"s":"orange","k":0.0867,"m":6.31e-6},{"s":"orange","k":0.0869,"m":1.58e-6},{"s":"orange","k":0.087,"m":1e-8},{"s":"orange","k":0.0872,"m":2e-6},{"s":"orange","k":0.0876,"m":3.8e-6},{"s":"orange","k":0.0881,"m":4.07e-6},{"s":"orange","k":0.0888,"m":2.82e-6},{"s":"orange","k":0.0898,"m":1.58e-6},{"s":"orange","k":0.0911,"m":1e-6},{"s":"orange","k":0.092,"m":5.01e-7},
{"s":"purple","k":0.0785,"m":1e-6},{"s":"purple","k":0.08,"m":3.16e-6},{"s":"purple","k":0.0818,"m":5.37e-6},{"s":"purple","k":0.0825,"m":3.16e-6},{"s":"purple","k":0.0828,"m":1e-6},{"s":"purple","k":0.0829,"m":1e-8},{"s":"purple","k":0.083,"m":1e-6},{"s":"purple","k":0.0834,"m":1.26e-5},{"s":"purple","k":0.0842,"m":1.26e-4},{"s":"purple","k":0.0855,"m":1e-3},{"s":"purple","k":0.0875,"m":8.91e-3},{"s":"purple","k":0.0899,"m":5.37e-2},{"s":"purple","k":0.09,"m":10},{"s":"purple","k":0.0901,"m":5.37e-2},{"s":"purple","k":0.092,"m":5.01e-3},{"s":"purple","k":0.094,"m":3.55e-4},{"s":"purple","k":0.096,"m":2.82e-5},{"s":"purple","k":0.0974,"m":6.31e-6},{"s":"purple","k":0.0977,"m":1.58e-6},{"s":"purple","k":0.0978,"m":1e-8},{"s":"purple","k":0.098,"m":1e-6},{"s":"purple","k":0.0984,"m":2.51e-6},{"s":"purple","k":0.0989,"m":3.63e-6},{"s":"purple","k":0.0995,"m":3.31e-6},{"s":"purple","k":0.1,"m":2.82e-6}
]
},
"spacing": 17,
"center": true,
"vconcat": [
{"hconcat": [
 {"title": {"text": "ℓ = 10", "offset": -9.5}, "width": 488, "height": 317, "data": {"name": "p10"},
  "mark": {"type": "line", "strokeWidth": 1.8, "clip": true},
  "encoding": {
   "x": {"field": "k", "type": "quantitative", "scale": {"domain": [0.016, 0.104], "nice": false, "zero": false}, "axis": {"values": [0.02,0.03,0.04,0.05,0.06,0.07,0.08,0.09,0.1], "format": ".2f", "title": "k'"}},
   "y": {"field": "m", "type": "quantitative", "scale": {"type": "log", "domain": [1e-6, 1], "nice": false}, "axis": {"values": [1e-6,2e-6,3e-6,4e-6,5e-6,6e-6,7e-6,8e-6,9e-6,1e-5,2e-5,3e-5,4e-5,5e-5,6e-5,7e-5,8e-5,9e-5,1e-4,2e-4,3e-4,4e-4,5e-4,6e-4,7e-4,8e-4,9e-4,1e-3,2e-3,3e-3,4e-3,5e-3,6e-3,7e-3,8e-3,9e-3,0.01,0.02,0.03,0.04,0.05,0.06,0.07,0.08,0.09,0.1,0.2,0.3,0.4,0.5,0.6,0.7,0.8,0.9,1], "labelExpr": "abs(log(datum.value)/LN10 - round(log(datum.value)/LN10)) < 0.01 ? ['10⁻⁶','10⁻⁵','10⁻⁴','10⁻³','10⁻²','10⁻¹','10⁰'][round(log(datum.value)/LN10)+6] : ''", "tickSize": {"condition": {"test": "abs(log(datum.value)/LN10 - round(log(datum.value)/LN10)) < 0.01", "value": 4.9}, "value": 2.8}, "gridOpacity": {"condition": {"test": "abs(log(datum.value)/LN10 - round(log(datum.value)/LN10)) < 0.01", "value": 1}, "value": 0}, "title": "Mₗ(k, k′)", "titleFontStyle": "italic", "titlePadding": 1}},
   "color": {"field": "s", "type": "nominal", "scale": {"domain": ["red","green","blue","gray","yellow","orange","purple"], "range": ["#ff0000","#008000","#0000ff","#808080","#ffff00","#ffa500","#800080"]}, "legend": null}
  }},
 {"title": {"text": "ℓ = 20", "offset": -9.5}, "width": 487, "height": 317, "data": {"name": "p20"},
  "mark": {"type": "line", "strokeWidth": 1.8, "clip": true},
  "encoding": {
   "x": {"field": "k", "type": "quantitative", "scale": {"domain": [0.016, 0.104], "nice": false, "zero": false}, "axis": {"values": [0.02,0.03,0.04,0.05,0.06,0.07,0.08,0.09,0.1], "format": ".2f", "title": "k'"}},
   "y": {"field": "m", "type": "quantitative", "scale": {"type": "log", "domain": [1e-6, 1], "nice": false}, "axis": {"values": [1e-6,2e-6,3e-6,4e-6,5e-6,6e-6,7e-6,8e-6,9e-6,1e-5,2e-5,3e-5,4e-5,5e-5,6e-5,7e-5,8e-5,9e-5,1e-4,2e-4,3e-4,4e-4,5e-4,6e-4,7e-4,8e-4,9e-4,1e-3,2e-3,3e-3,4e-3,5e-3,6e-3,7e-3,8e-3,9e-3,0.01,0.02,0.03,0.04,0.05,0.06,0.07,0.08,0.09,0.1,0.2,0.3,0.4,0.5,0.6,0.7,0.8,0.9,1], "labelExpr": "abs(log(datum.value)/LN10 - round(log(datum.value)/LN10)) < 0.01 ? ['10⁻⁶','10⁻⁵','10⁻⁴','10⁻³','10⁻²','10⁻¹','10⁰'][round(log(datum.value)/LN10)+6] : ''", "tickSize": {"condition": {"test": "abs(log(datum.value)/LN10 - round(log(datum.value)/LN10)) < 0.01", "value": 4.9}, "value": 2.8}, "gridOpacity": {"condition": {"test": "abs(log(datum.value)/LN10 - round(log(datum.value)/LN10)) < 0.01", "value": 1}, "value": 0}, "title": "Mₗ(k, k′)", "titleFontStyle": "italic", "titlePadding": 1}},
   "color": {"field": "s", "type": "nominal", "scale": {"domain": ["red","green","blue","gray","yellow","orange","purple"], "range": ["#ff0000","#008000","#0000ff","#808080","#ffff00","#ffa500","#800080"]}, "legend": null}
  }}
 ], "spacing": 77, "bounds": "flush"},
{"hconcat": [
 {"title": "ℓ = 40", "width": 488, "height": 317, "data": {"name": "p40"},
  "mark": {"type": "line", "strokeWidth": 1.8, "clip": true},
  "encoding": {
   "x": {"field": "k", "type": "quantitative", "scale": {"domain": [0.016, 0.104], "nice": false, "zero": false}, "axis": {"values": [0.02,0.03,0.04,0.05,0.06,0.07,0.08,0.09,0.1], "format": ".2f", "title": "k'"}},
   "y": {"field": "m", "type": "quantitative", "scale": {"type": "log", "domain": [1e-6, 1], "nice": false}, "axis": {"values": [1e-6,2e-6,3e-6,4e-6,5e-6,6e-6,7e-6,8e-6,9e-6,1e-5,2e-5,3e-5,4e-5,5e-5,6e-5,7e-5,8e-5,9e-5,1e-4,2e-4,3e-4,4e-4,5e-4,6e-4,7e-4,8e-4,9e-4,1e-3,2e-3,3e-3,4e-3,5e-3,6e-3,7e-3,8e-3,9e-3,0.01,0.02,0.03,0.04,0.05,0.06,0.07,0.08,0.09,0.1,0.2,0.3,0.4,0.5,0.6,0.7,0.8,0.9,1], "labelExpr": "abs(log(datum.value)/LN10 - round(log(datum.value)/LN10)) < 0.01 ? ['10⁻⁶','10⁻⁵','10⁻⁴','10⁻³','10⁻²','10⁻¹','10⁰'][round(log(datum.value)/LN10)+6] : ''", "tickSize": {"condition": {"test": "abs(log(datum.value)/LN10 - round(log(datum.value)/LN10)) < 0.01", "value": 4.9}, "value": 2.8}, "gridOpacity": {"condition": {"test": "abs(log(datum.value)/LN10 - round(log(datum.value)/LN10)) < 0.01", "value": 1}, "value": 0}, "title": "Mₗ(k, k′)", "titleFontStyle": "italic", "titlePadding": 1}},
   "color": {"field": "s", "type": "nominal", "scale": {"domain": ["red","green","blue","gray","yellow","orange","purple"], "range": ["#ff0000","#008000","#0000ff","#808080","#ffff00","#ffa500","#800080"]}, "legend": null}
  }},
 {"title": "ℓ = 80", "width": 486, "height": 317, "data": {"name": "p80"},
  "mark": {"type": "line", "strokeWidth": 1.8, "clip": true},
  "encoding": {
   "x": {"field": "k", "type": "quantitative", "scale": {"domain": [0.016, 0.1037], "nice": false, "zero": false}, "axis": {"values": [0.02,0.03,0.04,0.05,0.06,0.07,0.08,0.09,0.1], "format": ".2f", "title": "k'"}},
   "y": {"field": "m", "type": "quantitative", "scale": {"type": "log", "domain": [1e-6, 1], "nice": false}, "axis": {"values": [1e-6,2e-6,3e-6,4e-6,5e-6,6e-6,7e-6,8e-6,9e-6,1e-5,2e-5,3e-5,4e-5,5e-5,6e-5,7e-5,8e-5,9e-5,1e-4,2e-4,3e-4,4e-4,5e-4,6e-4,7e-4,8e-4,9e-4,1e-3,2e-3,3e-3,4e-3,5e-3,6e-3,7e-3,8e-3,9e-3,0.01,0.02,0.03,0.04,0.05,0.06,0.07,0.08,0.09,0.1,0.2,0.3,0.4,0.5,0.6,0.7,0.8,0.9,1], "labelExpr": "abs(log(datum.value)/LN10 - round(log(datum.value)/LN10)) < 0.01 ? ['10⁻⁶','10⁻⁵','10⁻⁴','10⁻³','10⁻²','10⁻¹','10⁰'][round(log(datum.value)/LN10)+6] : ''", "tickSize": {"condition": {"test": "abs(log(datum.value)/LN10 - round(log(datum.value)/LN10)) < 0.01", "value": 4.9}, "value": 2.8}, "gridOpacity": {"condition": {"test": "abs(log(datum.value)/LN10 - round(log(datum.value)/LN10)) < 0.01", "value": 1}, "value": 0}, "title": "Mₗ(k, k′)", "titleFontStyle": "italic", "titlePadding": 1}},
   "color": {"field": "s", "type": "nominal", "scale": {"domain": ["red","green","blue","gray","yellow","orange","purple"], "range": ["#ff0000","#008000","#0000ff","#808080","#ffff00","#ffa500","#800080"]}, "legend": null}
  }}
 ], "spacing": 90, "bounds": "flush"}
]
}
